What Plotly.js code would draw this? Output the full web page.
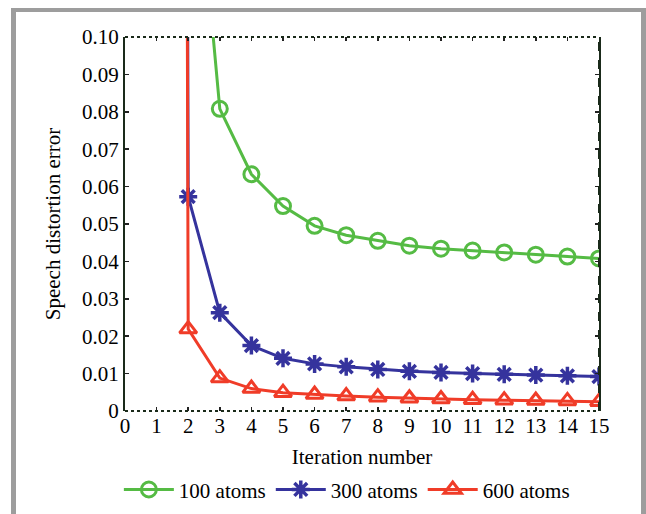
<!DOCTYPE html>
<html>
<head>
<meta charset="utf-8">
<script src="https://cdn.plot.ly/plotly-3.0.1.min.js"></script>
<style>
  html, body { margin: 0; padding: 0; background: #ffffff; }
  #wrap { position: relative; width: 646px; height: 514px; overflow: hidden; }
  #chart { position: absolute; left: 0; top: 0; width: 646px; height: 514px; }
  #frame { position: absolute; left: 11px; top: 8px; width: 625px; height: 600px;
           border-left: 5px solid #9d9d9d; border-top: 4px solid #9d9d9d; border-right: 5px solid #9d9d9d;
           pointer-events: none; }
</style>
</head>
<body>
<div id="wrap">
  <div id="chart"></div>
  <div id="frame"></div>
</div>
<script>
const iterations = [1, 2, 3, 4, 5, 6, 7, 8, 9, 10, 11, 12, 13, 14, 15];
const atoms100 = [0.40, 0.173, 0.0808, 0.0633, 0.0548, 0.0495, 0.0470, 0.0455, 0.0442, 0.0434, 0.0429, 0.0424, 0.0418, 0.0413, 0.0408];
const atoms300 = [3.0, 0.0573, 0.0263, 0.0175, 0.0141, 0.0126, 0.0118, 0.0111, 0.0106, 0.0103, 0.0100, 0.0098, 0.0096, 0.0094, 0.0092];
const atoms600 = [3.0, 0.0219, 0.0088, 0.0060, 0.0049, 0.0044, 0.0040, 0.0037, 0.0034, 0.0032, 0.0030, 0.0029, 0.0028, 0.0027, 0.0025];
const seriesNames = ['100 atoms', '300 atoms', '600 atoms'];
const yTickVals = [0, 0.01, 0.02, 0.03, 0.04, 0.05, 0.06, 0.07, 0.08, 0.09, 0.10];
const yTickText = ['0', '0.01', '0.02', '0.03', '0.04', '0.05', '0.06', '0.07', '0.08', '0.09', '0.10'];
const xTickVals = [0, 1, 2, 3, 4, 5, 6, 7, 8, 9, 10, 11, 12, 13, 14, 15];

const serif = '"Liberation Serif", "Times New Roman", serif';
const fs = 21;

const traces = [
  { x: iterations, y: atoms100, name: seriesNames[0], mode: 'lines+markers',
    line: { color: '#55bb44', width: 3 },
    marker: { symbol: 'circle-open', size: 15, color: '#55bb44', line: { width: 3, color: '#55bb44' } } },
  { x: iterations, y: atoms300, name: seriesNames[1], mode: 'lines+markers',
    line: { color: '#35339d', width: 3 },
    marker: { symbol: 'asterisk-open', size: 15, color: '#35339d', line: { width: 3.5, color: '#35339d' } } },
  { x: iterations, y: atoms600, name: seriesNames[2], mode: 'lines+markers',
    line: { color: '#f03c28', width: 3 },
    marker: { symbol: 'triangle-up-open', size: 15, color: '#f03c28', line: { width: 3, color: '#f03c28' } } }
];

const layout = {
  width: 646, height: 514,
  margin: { l: 125, r: 47, t: 37, b: 103, autoexpand: false },
  paper_bgcolor: '#ffffff', plot_bgcolor: '#ffffff',
  font: { family: serif, size: fs, color: '#000000' },
  showlegend: true,
  legend: { orientation: 'h', xref: 'container', yref: 'container', x: 0.184, xanchor: 'left', y: 0.047, yanchor: 'middle',
            font: { family: serif, size: fs, color: '#000000' }, itemwidth: 50,
            traceorder: 'normal', bgcolor: 'rgba(0,0,0,0)' },
  xaxis: {
    range: [0, 15], tickvals: xTickVals, ticks: 'inside', ticklen: 4, tickcolor: '#222222', tickwidth: 1.5,
    mirror: 'ticks', showline: false, showgrid: false, zeroline: false, automargin: false,
    tickfont: { family: serif, size: fs, color: '#000000' },
    title: { text: 'Iteration number', font: { family: serif, size: fs, color: '#000000' }, standoff: 12 }
  },
  yaxis: {
    range: [0, 0.1], tickvals: yTickVals, ticktext: yTickText, ticks: 'inside', ticklen: 4, tickcolor: '#222222', tickwidth: 1.5,
    mirror: 'ticks', showline: true, linecolor: '#1a2a1a', linewidth: 2, showgrid: false, zeroline: false, automargin: false,
    tickfont: { family: serif, size: fs, color: '#000000' },
    title: { text: 'Speech distortion error', font: { family: serif, size: fs, color: '#000000' }, standoff: 16 }
  },
  shapes: [
    { type: 'line', xref: 'paper', yref: 'paper', x0: 0, x1: 1, y0: 0, y1: 0, line: { color: '#1a2a1a', width: 2, dash: 'dot' } },
    { type: 'line', xref: 'paper', yref: 'paper', x0: 0, x1: 1, y0: 1, y1: 1, line: { color: '#1a2a1a', width: 2, dash: 'dot' } },
    { type: 'line', xref: 'paper', yref: 'paper', x0: 1, x1: 1, y0: 0, y1: 1, line: { color: '#1a2a1a', width: 2, dash: 'dash' } }
  ]
};

Plotly.newPlot('chart', traces, layout, { displayModeBar: false, staticPlot: true });
</script>
</body>
</html>
